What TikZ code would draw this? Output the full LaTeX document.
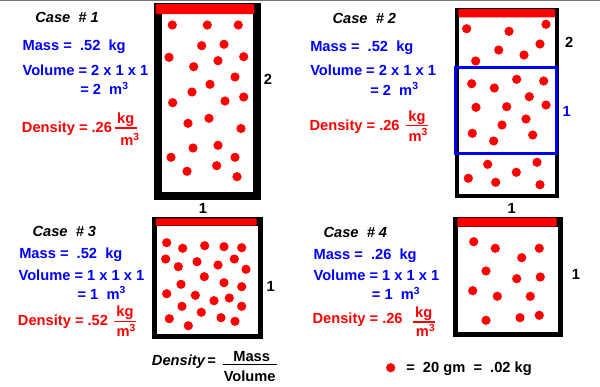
\documentclass[tikz,border=0pt]{standalone}
\usepackage{fontspec}
\setmainfont{Liberation Sans}

\tikzset{
  txt/.style={font=\fontsize{11}{13}\selectfont\bfseries,inner sep=0pt,anchor=base west},
  casehd/.style={txt,font=\fontsize{11}{13}\selectfont\bfseries\itshape},
  qty/.style={txt,text=blue},
  dens/.style={txt,text=red},
  unit/.style={txt,text=red,anchor=base,inner xsep=1.5pt,inner ysep=1pt},
  dimlbl/.style={font=\fontsize{11}{13}\selectfont\bfseries,inner sep=0pt},
  dot/.style={fill=red},
  lid/.style={fill=red,rounded corners=0.8pt},
}

\begin{document}
\begin{tikzpicture}[x=0.75pt,y=-0.75pt]
\useasboundingbox (0,0) rectangle (600,386);
\fill[black!55] (0,0) rectangle (600,1);
% vessels: wall, inside, lid
\fill (154,3) rectangle (261,200);
\fill[white] (161.7,14) rectangle (253.3,191.7);
\fill[lid] (155.7,4) rectangle (254.3,14);
\fill (455,8) rectangle (558.5,197.7);
\fill[white] (459.3,17.3) rectangle (554.5,194);
\fill[lid] (458.3,9) rectangle (555,17.3);
\fill (151.7,216.7) rectangle (262.7,338.7);
\fill[white] (156.7,225.7) rectangle (257.7,333.7);
\fill[lid] (155.7,218.3) rectangle (256.7,225.7);
\fill (453.3,217) rectangle (562.7,336.7);
\fill[white] (458.3,226.7) rectangle (557.7,331.7);
\fill[lid] (457.3,217.7) rectangle (556.7,226.7);
% particles
\foreach \x/\y in {172.3/25,207.3/25,238.3/25,201.7/45.7,224/44.3,169/57.3,243.7/56.7,218/60.7,
  193.7/66.7,235/77,210/84.3,192/92,172.7/102.7,225/101,243.7/97,188/123.3,209/118.3,241/128.5,
  193/148,218/145.3,171/157.3,235/157.3,187/171.3,216.7/165.7,237/176.7}
  \fill[dot] (\x,\y) circle (3.45pt);
\foreach \x/\y in {466.7/28.7,509/31.3,546/24.3,498.7/50,524/55,540/44,475.7/61,471.7/83.7,
  494.3/88,516.7/79.3,543.7/81,529.3/96.7,476/107.3,506.7/106.7,546/105,526/119,502/125,
  472.3/133.3,493.7/141,532.7/135,487.7/164.3,537/162.3,516.3/172.3,468.3/178.3,495.7/182.3,540/184.7}
  \fill[dot] (\x,\y) circle (3.45pt);
\foreach \x/\y in {166.7/242.7,182.7/248.3,204.7/245.7,224/246.7,241.7/247.7,165.7/259,178.3/266.7,
  197/261.7,218/265,234.3/259,246/269.3,204.3/276.7,181/284.3,224/282.7,241.7/286.7,166.7/293.7,
  195.3/295.3,214/300.7,229.3/298,182/306.3,241.7/306.3,201.3/312.3,169.3/318.7,221/317.7,
  235/321.3,188.3/325.7}
  \fill[dot] (\x,\y) circle (3.45pt);
\foreach \x/\y in {473.7/241.7,495.3/248.3,539.3/248.3,521.7/257.7,486/271,516.7/278.7,540.3/277,
  472.7/290.7,497.3/296.3,530.3/296.3,486/320.3,520/317.7,539.3/315.3}
  \fill[dot] (\x,\y) circle (3.45pt);
\draw[blue,line width=2.6pt] (455.3,67.7) rectangle (556.3,153.3);
% case 1
\node[casehd] (c1case) at (35,22) {Case\ \ \# 1};
\node[qty] (c1mass) at (22.3,50) {Mass =\ \ .52\ \ kg};
\node[qty] (c1vol) at (22.3,75) {Volume = 2 x 1 x 1};
\node[qty] (c1eq) at (80,94.5) {= 2\ \ m\textsuperscript{3}};
\node[dens] (c1dens) at (21.7,132.5) {Density = .26};
\node[unit] (c1kg) at (125.8,123.3) {kg};
\node[unit] (c1m) at (130,145.7) {m\textsuperscript{3}};
\draw[red,line width=0.9pt] (c1kg.south west) -- (c1kg.south east);
\node[dimlbl] (c1h) at (268,79) {2};
\node[dimlbl] (c1w) at (203,208) {1};
% case 2
\node[casehd] (c2case) at (332.3,23.5) {Case\ \ \# 2};
\node[qty] (c2mass) at (310,51) {Mass =\ \ .52\ \ kg};
\node[qty] (c2vol) at (310,75.7) {Volume = 2 x 1 x 1};
\node[qty] (c2eq) at (370,95) {= 2\ \ m\textsuperscript{3}};
\node[dens] (c2dens) at (309.3,130) {Density = .26};
\node[unit] (c2kg) at (417,121) {kg};
\node[unit] (c2m) at (418.3,141) {m\textsuperscript{3}};
\draw[red,line width=0.9pt] (c2kg.south west) -- (c2kg.south east);
\node[dimlbl] (c2h) at (569.3,42.3) {2};
\node[dimlbl,text=blue] (c2hb) at (566.7,111) {1};
\node[dimlbl] (c2w) at (511.7,208.3) {1};
% case 3
\node[casehd] (c3case) at (32.3,236) {Case\ \ \# 3};
\node[qty] (c3mass) at (19,258.3) {Mass =\ \ .52\ \ kg};
\node[qty] (c3vol) at (18.3,280) {Volume = 1 x 1 x 1};
\node[qty] (c3eq) at (77.3,299) {= 1\ \ m\textsuperscript{3}};
\node[dens] (c3dens) at (17.7,325) {Density = .52};
\node[unit] (c3kg) at (125,316.7) {kg};
\node[unit] (c3m) at (126.3,336.7) {m\textsuperscript{3}};
\draw[red,line width=0.9pt] (c3kg.south west) -- (c3kg.south east);
\node[dimlbl] (c3h) at (270.7,286.7) {1};
% case 4
\node[casehd] (c4case) at (323.3,237.7) {Case\ \ \# 4};
\node[qty] (c4mass) at (313.3,259.3) {Mass =\ \ .26\ \ kg};
\node[qty] (c4vol) at (313.3,280) {Volume = 1 x 1 x 1};
\node[qty] (c4eq) at (371.7,299.3) {= 1\ \ m\textsuperscript{3}};
\node[dens] (c4dens) at (312.3,323.3) {Density = .26};
\node[unit] (c4kg) at (423.8,317.3) {kg};
\node[unit] (c4m) at (425.7,336.7) {m\textsuperscript{3}};
\draw[red,line width=0.9pt] (c4kg.south west) -- (c4kg.south east);
\node[dimlbl] (c4h) at (576,274) {1};
% definition and legend
\node[casehd] (fden) at (151.7,365.7) {Density\,\upshape=};
\node[txt,anchor=base] (fmass) at (251.7,361.5) {Mass};
\node[txt,anchor=base] (fvol) at (249.7,381.7) {Volume};
\draw[line width=1pt] ([yshift=-2pt]fmass.south -| 222.7,0) -- ([yshift=-2pt]fmass.south -| 277.3,0);
\fill[dot] (390.7,367.7) circle (3.45pt);
\node[txt] (legend) at (406,372.7) {=\ \ 20 gm\ \ =\ \ .02 kg};
\end{tikzpicture}
\end{document}
